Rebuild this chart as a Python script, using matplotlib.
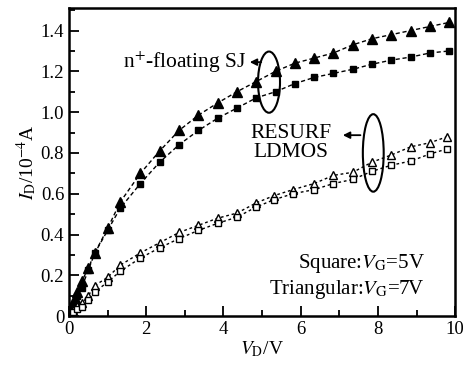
import numpy as np
import matplotlib
matplotlib.use('Agg')
import matplotlib.pyplot as plt
from matplotlib.patches import Ellipse
from matplotlib.ticker import MultipleLocator

plt.rcParams['font.family'] = ['Liberation Serif', 'DejaVu Serif']
plt.rcParams['mathtext.fontset'] = 'stix'

# n+-floating SJ, filled markers
sj_tri_x = [0.05, 0.1, 0.15, 0.2, 0.33, 0.5, 0.67, 1.0, 1.33, 1.85, 2.35, 2.85, 3.35, 3.85,
            4.35, 4.85, 5.35, 5.85, 6.35, 6.85, 7.35, 7.85, 8.35, 8.85, 9.35, 9.85]
sj_tri_y = [0.03, 0.06, 0.09, 0.12, 0.17, 0.235, 0.31, 0.43, 0.56, 0.70, 0.81, 0.91, 0.985, 1.045,
            1.10, 1.15, 1.20, 1.24, 1.265, 1.29, 1.33, 1.36, 1.38, 1.40, 1.42, 1.44]
sj_sq_x = [0.05, 0.1, 0.2, 0.33, 0.5, 0.67, 1.0, 1.33, 1.85, 2.35, 2.85, 3.35, 3.85,
           4.35, 4.85, 5.35, 5.85, 6.35, 6.85, 7.35, 7.85, 8.35, 8.85, 9.35, 9.85]
sj_sq_y = [0.02, 0.05, 0.1, 0.14, 0.225, 0.31, 0.42, 0.53, 0.65, 0.755, 0.84, 0.91, 0.97,
           1.02, 1.07, 1.10, 1.14, 1.17, 1.19, 1.21, 1.235, 1.255, 1.27, 1.29, 1.30]

# RESURF LDMOS, open markers
rs_x = [0.1, 0.2, 0.33, 0.5, 0.67, 1.0, 1.33, 1.85, 2.35, 2.85, 3.35, 3.85, 4.35, 4.85,
        5.3, 5.8, 6.35, 6.85, 7.35, 7.85, 8.35, 8.85, 9.35, 9.8]
rs_tri_y = [0.03, 0.05, 0.065, 0.10, 0.15, 0.19, 0.25, 0.31, 0.36, 0.41, 0.445, 0.48, 0.505, 0.555,
            0.59, 0.62, 0.65, 0.69, 0.705, 0.755, 0.79, 0.83, 0.85, 0.88]
rs_sq_y = [0.02, 0.035, 0.044, 0.078, 0.118, 0.167, 0.22, 0.285, 0.335, 0.38, 0.42, 0.455, 0.485, 0.535,
           0.57, 0.60, 0.62, 0.65, 0.67, 0.71, 0.74, 0.76, 0.795, 0.82]

fig = plt.figure(figsize=(4.63, 3.68), dpi=100)
ax = fig.add_axes([0.149, 0.141, 0.834, 0.837])

ax.plot(sj_tri_x, sj_tri_y, 'k--', marker='^', ms=7.5, lw=1, dashes=(3, 2))
ax.plot(sj_sq_x, sj_sq_y, 'k--', marker='s', ms=5, lw=1, dashes=(3, 2))
ax.plot(rs_x, rs_tri_y, 'k--', marker='^', ms=6, mfc='white', mew=1, lw=1, dashes=(2, 2))
ax.plot(rs_x, rs_sq_y, 'k--', marker='s', ms=4.5, mfc='white', mew=1, lw=1, dashes=(2, 2))

# ellipses and arrows
ax.add_patch(Ellipse((5.18, 1.147), 0.57, 0.30, fill=False, lw=1.5, ec='k'))
ax.add_patch(Ellipse((7.88, 0.80), 0.54, 0.38, fill=False, lw=1.5, ec='k'))
ax.annotate('', xy=(4.61, 1.245), xytext=(5.05, 1.245),
            arrowprops=dict(arrowstyle='-|>', color='k', lw=1.3, mutation_scale=10))
ax.annotate('', xy=(7.02, 0.887), xytext=(7.62, 0.887),
            arrowprops=dict(arrowstyle='-|>', color='k', lw=1.3, mutation_scale=10))

ax.text(1.40, 1.245, r'n$^{+}$-floating SJ', fontsize=15.5, va='center', ha='left')
ax.text(5.75, 0.85, 'RESURF\nLDMOS', fontsize=15.5, va='center', ha='center', linespacing=1.0)
ax.text(9.22, 0.26, r'Square:$V_{\rm G}$=5V', fontsize=15, va='center', ha='right')
ax.text(9.22, 0.13, r'Triangular:$V_{\rm G}$=7V', fontsize=15, va='center', ha='right')

ax.set_xlim(0, 10)
ax.set_ylim(0, 1.51)
ax.xaxis.set_major_locator(MultipleLocator(2))
ax.xaxis.set_minor_locator(MultipleLocator(1))
ax.yaxis.set_minor_locator(MultipleLocator(0.1))
ax.set_yticks([0, 0.2, 0.4, 0.6, 0.8, 1.0, 1.2, 1.4])
ax.set_yticklabels(['0', '0.2', '0.4', '0.6', '0.8', '1.0', '1.2', '1.4'])
ax.tick_params(which='both', direction='in', labelsize=13.5, width=1.3)
ax.tick_params(which='major', length=7)
ax.tick_params(which='minor', length=4)
for s in ax.spines.values():
    s.set_linewidth(1.8)

ax.set_xlabel(r'$V_{\rm D}$/V', fontsize=14, labelpad=1)
ax.set_ylabel(r'$I_{\rm D}$/10$^{-4}$A', fontsize=14, labelpad=1)

fig.savefig('out.png', dpi=100)
